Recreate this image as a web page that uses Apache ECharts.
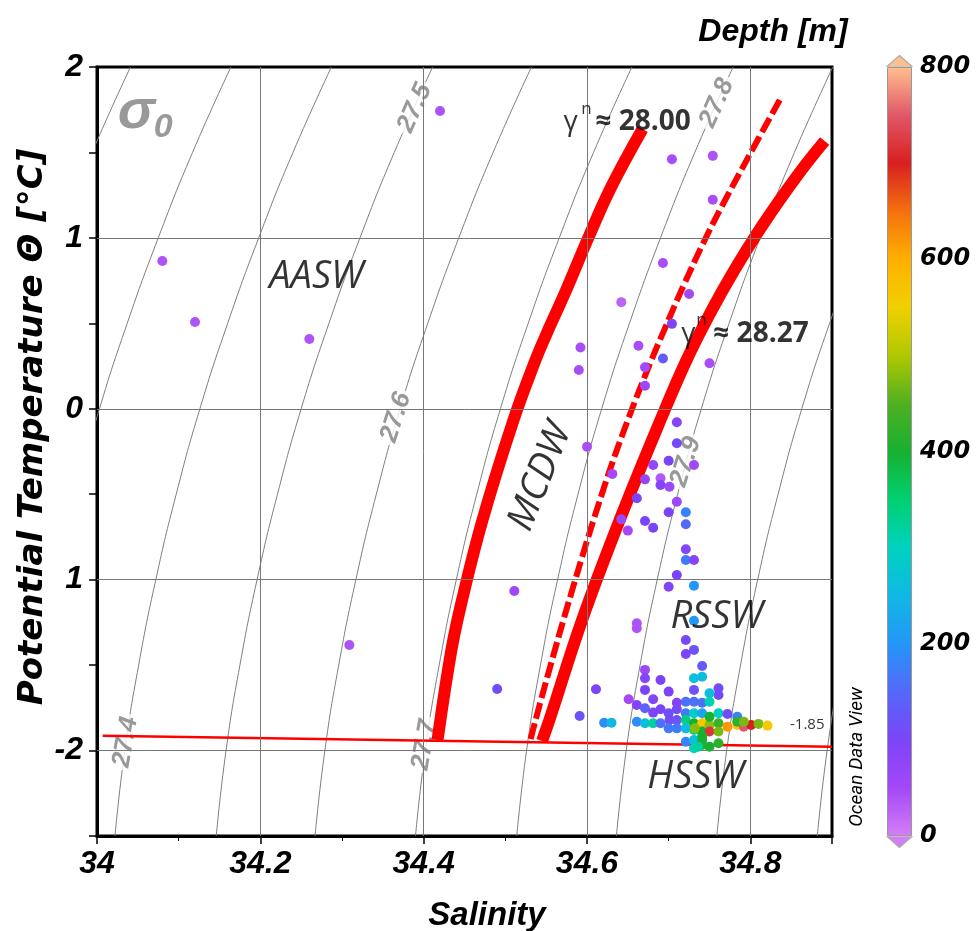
<!DOCTYPE html>
<html><head><meta charset="utf-8">
<script src="https://cdn.jsdelivr.net/npm/echarts@6/dist/echarts.min.js"></script>
<style>html,body{margin:0;padding:0;background:#fff}#c{width:976px;height:931px}</style>
</head><body><div id="c"></div>
<script>
// ---------------- DATA ----------------
const xTickStep = 0.2;
const yTickStep = 0.5;
const gridX = [34.2, 34.4, 34.6, 34.8];
const gridY = [1, 0, -1, -2];
const depthTicks = [0, 200, 400, 600, 800];

// isopycnal (sigma0) lines: salinity at each temperature level
const isoT    = [2, 1.5, 1, 0.5, 0, -0.5, -1, -1.5, -2, -2.5];
const iso27_2 = [34.041, 33.994, 33.952, 33.914, 33.880, 33.851, 33.826, 33.805, 33.788, 33.776];
const iso27_3 = [34.164, 34.117, 34.075, 34.037, 34.003, 33.974, 33.949, 33.928, 33.911, 33.899];
const iso27_4 = [34.287, 34.240, 34.198, 34.160, 34.126, 34.097, 34.072, 34.051, 34.034, 34.022];
const iso27_5 = [34.411, 34.364, 34.322, 34.284, 34.250, 34.221, 34.196, 34.175, 34.158, 34.146];
const iso27_6 = [34.532, 34.485, 34.443, 34.405, 34.371, 34.342, 34.317, 34.296, 34.279, 34.267];
const iso27_7 = [34.655, 34.608, 34.566, 34.528, 34.494, 34.465, 34.440, 34.419, 34.402, 34.390];
const iso27_8 = [34.779, 34.732, 34.690, 34.652, 34.618, 34.589, 34.564, 34.543, 34.526, 34.514];
const iso27_9 = [34.901, 34.854, 34.812, 34.774, 34.740, 34.711, 34.686, 34.665, 34.648, 34.636];
const iso28_0 = [35.024, 34.977, 34.935, 34.897, 34.863, 34.834, 34.809, 34.788, 34.771, 34.759];
const iso28_1 = [35.147, 35.100, 35.058, 35.020, 34.986, 34.957, 34.932, 34.911, 34.894, 34.882];

// isopycnal labels (placed on their lines)
const sigmaLabelText = ['27.4', '27.5', '27.6', '27.7', '27.8', '27.9'];
const sigmaLabelS    = [34.035, 34.389, 34.366, 34.401, 34.759, 34.721];
const sigmaLabelT    = [-1.95, 1.76, -0.05, -1.967, 1.79, -0.31];

// neutral density curves
const g2800S = [34.668, 34.629, 34.601, 34.573, 34.551, 34.537, 34.510, 34.472, 34.447, 34.434, 34.417];
const g2800T = [1.637, 1.292, 0.994, 0.678, 0.444, 0.286, -0.066, -0.651, -1.119, -1.411, -1.938];
const gDashS = [34.836, 34.797, 34.766, 34.743, 34.718, 34.693, 34.679, 34.650, 34.621, 34.583, 34.548, 34.530];
const gDashT = [1.807, 1.468, 1.193, 0.976, 0.719, 0.444, 0.286, -0.066, -0.458, -1.043, -1.628, -1.950];
const g2827S = [34.891, 34.859, 34.815, 34.779, 34.751, 34.722, 34.690, 34.640, 34.594, 34.554, 34.545];
const g2827T = [1.567, 1.374, 1.075, 0.800, 0.561, 0.286, -0.066, -0.651, -1.236, -1.821, -1.944];

// surface freezing line
const freezeS = [34.007, 34.9];
const freezeT = [-1.914, -1.977];

// stations: salinity, potential temperature, depth
const dotS = [34.080,34.120,34.260,34.420,34.309,34.511,34.490,34.591,34.704,34.754,
34.754,34.693,34.642,34.725,34.704,34.592,34.663,34.693,34.590,34.671,
34.671,34.750,34.710,34.600,34.710,34.731,34.700,34.681,34.631,34.671,
34.690,34.690,34.701,34.661,34.710,34.721,34.700,34.642,34.671,34.681,
34.650,34.721,34.721,34.721,34.731,34.710,34.700,34.731,34.661,34.661,
34.731,34.721,34.731,34.721,34.741,34.671,34.671,34.741,34.690,34.611,
34.731,34.671,34.700,34.761,34.731,34.761,34.750,34.651,34.681,34.741,
34.721,34.731,34.750,34.661,34.671,34.690,34.710,34.681,34.700,34.721,
34.731,34.741,34.761,34.772,34.621,34.630,34.661,34.671,34.681,34.784,
34.690,34.701,34.710,34.721,34.731,34.741,34.750,34.761,34.772,34.784,
34.792,34.801,34.810,34.821,34.784,34.792,34.700,34.710,34.721,34.731,
34.741,34.750,34.761,34.732,34.721,34.731,34.741,34.731,34.741,34.750,
34.761,34.736,34.710,34.750,34.741];
const dotT = [0.865,0.508,0.408,1.743,-1.382,-1.066,-1.640,-1.798,1.460,1.480,
1.223,0.853,0.624,0.672,0.497,0.359,0.369,0.294,0.227,0.243,
0.135,0.266,-0.079,-0.222,-0.202,-0.329,-0.304,-0.329,-0.381,-0.413,
-0.407,-0.446,-0.456,-0.524,-0.544,-0.606,-0.606,-0.647,-0.657,-0.696,
-0.713,-0.676,-0.822,-0.885,-0.885,-0.973,-1.041,-1.035,-1.255,-1.284,
-1.240,-1.353,-1.411,-1.435,-1.505,-1.528,-1.577,-1.568,-1.587,-1.641,
-1.577,-1.645,-1.655,-1.635,-1.645,-1.675,-1.665,-1.700,-1.700,-1.720,
-1.714,-1.714,-1.714,-1.733,-1.752,-1.758,-1.758,-1.778,-1.782,-1.782,
-1.782,-1.782,-1.782,-1.786,-1.837,-1.837,-1.831,-1.840,-1.840,-1.802,
-1.840,-1.821,-1.821,-1.821,-1.840,-1.840,-1.850,-1.840,-1.860,-1.850,
-1.860,-1.850,-1.844,-1.854,-1.831,-1.831,-1.870,-1.870,-1.870,-1.880,
-1.889,-1.889,-1.889,-1.870,-1.948,-1.938,-1.938,-1.987,-1.967,-1.977,
-1.957,-1.977,-1.720,-1.802,-1.917];
const dotDepth = [40,40,40,40,40,60,110,120,45,40,
45,45,25,50,95,45,45,130,45,50,
55,45,90,45,110,50,100,70,50,70,
35,90,60,100,60,180,100,60,100,100,
50,150,90,170,90,100,90,200,40,40,
200,110,120,100,130,60,90,260,100,100,
260,100,100,110,120,110,260,50,90,160,
160,160,310,90,140,100,110,100,120,170,
290,220,300,110,190,250,190,260,320,180,
160,110,120,340,400,560,480,430,620,560,
750,700,470,560,420,470,170,170,260,320,
400,720,470,480,180,260,400,300,410,400,
420,320,90,400,400];

// colour scale of depth (0 .. 800 m)
const depthColors = ['#d47ef5','#a448f8','#7c44f8','#5468f8','#2496f8','#10b8e4','#00d2c0','#00d070',
  '#18b030','#50b020','#b0c800','#f0d000','#ffb000','#f47010','#d82020','#e05868','#ffc090'];

// ---------------- CHART ----------------
const chart = echarts.init(document.getElementById('c'));
const isoLevels = [iso27_2, iso27_3, iso27_4, iso27_5, iso27_6, iso27_7, iso27_8, iso27_9, iso28_0, iso28_1];
const sigmaRot = {'27.4': 80, '27.5': 66, '27.6': 72, '27.7': 80, '27.8': 66, '27.9': 72};
const zip = (a, b) => a.map((v, i) => [v, b[i]]);

const series = [];
isoLevels.forEach(arr => series.push({
  type: 'line', data: zip(arr, isoT), smooth: true, symbol: 'none', silent: true, clip: true,
  lineStyle: { color: '#7f7f7f', width: 1 }, z: 1
}));
series.push({
  type: 'scatter', symbolSize: 0, silent: true, z: 2,
  data: sigmaLabelText.map((t, i) => ({
    value: [sigmaLabelS[i], sigmaLabelT[i]],
    label: { show: true, position: 'inside', formatter: t, rotate: sigmaRot[t],
      color: '#7f7f7f', fontFamily: 'Liberation Sans', fontWeight: 'bold', fontStyle: 'italic',
      fontSize: 26, backgroundColor: '#fff', padding: [0, 3] }
  }))
});
series.push({
  type: 'line', data: [], silent: true, z: 3,
  markLine: { silent: true, symbol: 'none', animation: false, label: { show: false },
    lineStyle: { color: '#777', width: 1, type: 'solid' },
    data: gridX.map(v => ({ xAxis: v })).concat(gridY.map(v => ({ yAxis: v }))) }
});
series.push({ type: 'line', data: zip(freezeS, freezeT), symbol: 'none', silent: true, z: 4,
  lineStyle: { color: '#ff0000', width: 2.5 } });
series.push({ type: 'line', data: zip(g2800S, g2800T), smooth: 0.4, symbol: 'none', silent: true, z: 4,
  lineStyle: { color: '#ff0000', width: 12 } });
series.push({ type: 'line', data: zip(gDashS, gDashT), smooth: 0.4, symbol: 'none', silent: true, z: 4,
  lineStyle: { color: '#ff0000', width: 6, type: [16, 5] } });
series.push({ type: 'line', data: zip(g2827S, g2827T), smooth: 0.4, symbol: 'none', silent: true, z: 4,
  lineStyle: { color: '#ff0000', width: 12 } });
const dotIndex = series.length;
series.push({ type: 'scatter', symbolSize: 10, z: 5, itemStyle: { opacity: 1 },
  data: dotS.map((s, i) => [s, dotT[i], dotDepth[i]]) });

// text annotations in data space
const ann = (s, t, text, st) => ({ value: [s, t], label: Object.assign({ show: true, formatter: text,
  position: 'inside', color: '#000', fontFamily: 'Open Sans' }, st) });
const regionFont = { fontStyle: 'italic', fontSize: 38 };
series.push({
  type: 'scatter', symbolSize: 0, silent: true, z: 6,
  data: [
    ann(34.0482, 1.731, 'σ', { color: '#7f7f7f', fontFamily: 'Liberation Sans', fontWeight: 'bold', fontStyle: 'italic', fontSize: 56 }),
    ann(34.0812, 1.643, '0', { color: '#7f7f7f', fontFamily: 'Liberation Sans', fontWeight: 'bold', fontStyle: 'italic', fontSize: 34 }),
    ann(34.2686, 0.771, 'AASW', regionFont),
    ann(34.543, -0.399, 'MCDW', Object.assign({ rotate: 68 }, regionFont)),
    ann(34.7587, -1.218, 'RSSW', regionFont),
    ann(34.733, -2.155, 'HSSW', regionFont),
    ann(34.5711, 1.678, 'γ', { fontSize: 28, align: 'left', position: 'right', distance: 0 }),
    ann(34.5931, 1.754, 'n', { fontSize: 17, align: 'left', position: 'right', distance: 0 }),
    ann(34.6103, 1.678, '≈ 28.00', { fontSize: 28, fontWeight: 'bold', align: 'left', position: 'right', distance: 0 }),
    ann(34.7155, 0.438, 'γ', { fontSize: 28, align: 'left', position: 'right', distance: 0 }),
    ann(34.7339, 0.520, 'n', { fontSize: 17, align: 'left', position: 'right', distance: 0 }),
    ann(34.7547, 0.438, '≈ 28.27', { fontSize: 28, fontWeight: 'bold', align: 'left', position: 'right', distance: 0 }),
    ann(34.8697, -1.85, '-1.85', { fontSize: 15 })
  ]
});
// colour bar
const cbStops = depthColors.map((c, i) => ({ offset: i / (depthColors.length - 1), color: c }));
series.push({ type: 'bar', xAxisIndex: 1, yAxisIndex: 1, data: [depthTicks[depthTicks.length - 1]], barWidth: '100%', silent: true,
  itemStyle: { color: new echarts.graphic.LinearGradient(0, 1, 0, 0, cbStops), borderColor: '#999', borderWidth: 1 } });
series.push({ type: 'scatter', xAxisIndex: 1, yAxisIndex: 1, clip: false, silent: true, symbol: 'triangle',
  symbolSize: [25, 11], symbolOffset: [0, -6], data: [['d', depthTicks[depthTicks.length - 1]]],
  itemStyle: { color: depthColors[depthColors.length - 1], borderColor: '#aaa', borderWidth: 1, opacity: 1 } });
series.push({ type: 'scatter', xAxisIndex: 1, yAxisIndex: 1, clip: false, silent: true, symbol: 'triangle',
  symbolRotate: 180, symbolSize: [25, 11], symbolOffset: [0, 6], data: [['d', depthTicks[0]]],
  itemStyle: { color: depthColors[0], borderColor: '#aaa', borderWidth: 1, opacity: 1 } });

const tickFont = { color: '#000', fontFamily: 'Liberation Sans', fontWeight: 'bold', fontStyle: 'italic', fontSize: 32 };
const option = {
  animation: false,
  backgroundColor: '#fff',
  grid: [
    { left: 97, top: 67, width: 735, height: 769, show: true, borderColor: '#000', borderWidth: 3, backgroundColor: 'transparent' },
    { left: 887, top: 67, width: 25, height: 769 }
  ],
  xAxis: [
    { type: 'value', gridIndex: 0, min: 34, max: 34.9, interval: xTickStep,
      axisLine: { onZero: false, lineStyle: { color: '#000', width: 3 } },
      axisTick: { length: 8, lineStyle: { color: '#000', width: 1.5 } },
      minorTick: { show: true, splitNumber: 2, length: 5, lineStyle: { color: '#000', width: 1 } },
      splitLine: { show: false },
      axisLabel: Object.assign({ margin: 12, showMaxLabel: false, formatter: v => String(+v.toFixed(1)) }, tickFont) },
    { type: 'category', gridIndex: 1, data: ['d'], show: false }
  ],
  yAxis: [
    { type: 'value', gridIndex: 0, min: -2.5, max: 2, interval: yTickStep,
      axisLine: { onZero: false, lineStyle: { color: '#000', width: 3 } },
      axisTick: { length: 8, lineStyle: { color: '#000', width: 1.5 } },
      splitLine: { show: false },
      axisLabel: Object.assign({ margin: 14, formatter: v => Number.isInteger(v) ? (v === -1 ? '1' : String(v)) : '' }, tickFont) },
    { type: 'value', gridIndex: 1, position: 'right', min: depthTicks[0], max: depthTicks[depthTicks.length - 1], interval: 200,
      axisLine: { show: false }, splitLine: { show: false },
      axisTick: { inside: true, length: 5, lineStyle: { color: '#000', width: 1.5 } },
      axisLabel: { margin: 8, color: '#000', fontFamily: 'DejaVu Sans', fontWeight: 'bold', fontStyle: 'italic', fontSize: 24 } },
    { type: 'value', gridIndex: 1, position: 'left', min: depthTicks[0], max: depthTicks[depthTicks.length - 1], interval: 200,
      axisLine: { show: false }, splitLine: { show: false }, axisLabel: { show: false },
      axisTick: { inside: true, length: 5, lineStyle: { color: '#000', width: 1.5 } } }
  ],
  visualMap: { type: 'continuous', show: false, seriesIndex: dotIndex, dimension: 2,
    min: depthTicks[0], max: depthTicks[depthTicks.length - 1], inRange: { color: depthColors } },
  graphic: [
    { type: 'text', x: 33, y: 427, rotation: Math.PI / 2, style: { text: 'Potential Temperature Θ [°C]',
      font: 'italic bold 34px "DejaVu Sans"', fill: '#000', align: 'center', verticalAlign: 'middle' } },
    { type: 'text', x: 487, y: 916, style: { text: 'Salinity',
      font: 'italic bold 33px "Liberation Sans"', fill: '#000', align: 'center', verticalAlign: 'middle' } },
    { type: 'text', x: 773, y: 32, style: { text: 'Depth [m]',
      font: 'italic bold 32px "Liberation Sans"', fill: '#000', align: 'center', verticalAlign: 'middle' } },
    { type: 'text', x: 857, y: 757, rotation: Math.PI / 2, style: { text: 'Ocean Data View',
      font: 'italic 19px Roboto', fill: '#000', align: 'center', verticalAlign: 'middle' } }
  ],
  series: series
};
chart.setOption(option);
</script></body></html>
